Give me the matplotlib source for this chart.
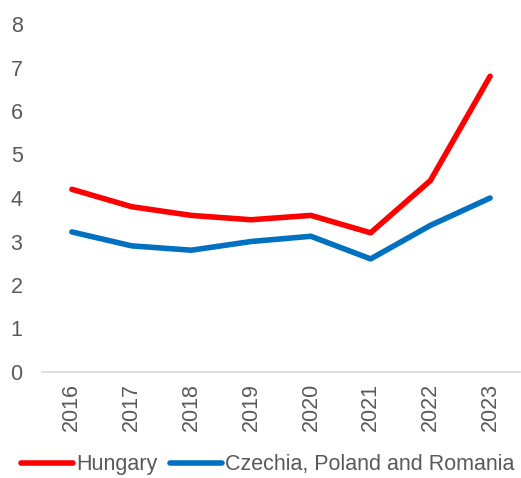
import matplotlib
matplotlib.use("Agg")
import matplotlib.pyplot as plt

years = ["2016", "2017", "2018", "2019", "2020", "2021", "2022", "2023"]
hungary = [4.2, 3.8, 3.6, 3.5, 3.6, 3.2, 4.4, 6.8]
cpr = [3.22, 2.9, 2.8, 3.0, 3.12, 2.6, 3.37, 4.0]
yticks = [0, 1, 2, 3, 4, 5, 6, 7, 8]

plt.rcParams['font.family'] = ['Liberation Sans', 'DejaVu Sans']

fig = plt.figure(figsize=(5.21, 4.78), dpi=100)
ax = fig.add_axes([42/521, (478-372)/478, (520-42)/521, (372-24)/478])

x = list(range(len(years)))
ax.plot(x, hungary, color="#FF0000", lw=4, solid_capstyle="round", solid_joinstyle="round", label="Hungary")
ax.plot(x, cpr, color="#0070C0", lw=4, solid_capstyle="round", solid_joinstyle="round", label="Czechia, Poland and Romania")

ax.set_xlim(-0.5, 7.5)
ax.set_ylim(0, 8)
ax.set_yticks(yticks)
ax.set_xticks(x)
ax.set_xticklabels(years, rotation=90)
for s in ["top", "right", "left"]:
    ax.spines[s].set_visible(False)
ax.spines["bottom"].set_color("#D9D9D9")
ax.spines["bottom"].set_linewidth(1.2)
ax.tick_params(axis="both", length=0, labelsize=15.5, colors="#595959")
ax.tick_params(axis="y", pad=14)
ax.tick_params(axis="x", pad=8)

leg = ax.legend(loc="lower center", bbox_to_anchor=(0.5 - 0.028, -0.297), ncol=2, frameon=False,
                fontsize=15.5, handlelength=2.4, handletextpad=0.15, columnspacing=0.6,
                borderaxespad=0, borderpad=0)
for t in leg.get_texts():
    t.set_color("#595959")

fig.savefig("out.png", dpi=100)
